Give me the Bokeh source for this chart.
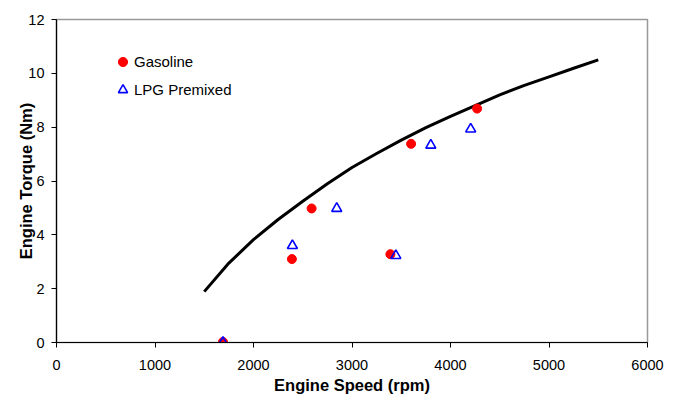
from bokeh.plotting import figure
from bokeh.models import Range1d, FixedTicker, Legend, LegendItem
from bokeh.embed import file_html
from bokeh.resources import INLINE

# Full-load torque curve
curve_speed = [1500, 1750, 2000, 2250, 2500, 2750, 3000, 3250, 3500, 3750, 4000, 4250, 4500, 4750, 5000, 5250, 5500]
curve_torque = [1.89, 2.95, 3.82, 4.57, 5.25, 5.9, 6.5, 7.02, 7.52, 7.98, 8.4, 8.8, 9.2, 9.55, 9.87, 10.19, 10.5]

# Gasoline
gas_speed = [1690, 2390, 2590, 3390, 3600, 4270]
gas_torque = [0.02, 3.1, 4.98, 3.28, 7.38, 8.69]

# LPG premixed
lpg_speed = [1690, 2395, 2845, 3445, 3800, 4205]
lpg_torque = [0.0, 3.6, 4.98, 3.23, 7.33, 7.93]

x_ticks = [0, 1000, 2000, 3000, 4000, 5000, 6000]
y_ticks = [0, 2, 4, 6, 8, 10, 12]

FONT = "Liberation Sans"

p = figure(width=677, height=396, output_backend="svg", toolbar_location=None,
           x_range=Range1d(0, 6000), y_range=Range1d(0, 12),
           min_border_left=56, min_border_right=30, min_border_top=19, min_border_bottom=53)
p.background_fill_color = "white"
p.border_fill_color = "white"
p.outline_line_color = "#999999"
p.outline_line_width = 1.5
p.grid.visible = False

for ax in (p.xaxis[0], p.yaxis[0]):
    ax.axis_line_color = "black"
    ax.axis_line_width = 1.2
    ax.major_tick_line_color = "black"
    ax.major_tick_out = 5
    ax.major_tick_in = 0
    ax.minor_tick_line_color = None
    ax.major_label_text_font = FONT
    ax.major_label_text_font_size = "14.5px"
    ax.major_label_text_color = "black"
    ax.axis_label_text_font = FONT
    ax.axis_label_text_font_size = "16.5px"
    ax.axis_label_text_font_style = "bold"
    ax.axis_label_text_color = "black"

p.xaxis.ticker = FixedTicker(ticks=x_ticks)
p.yaxis.ticker = FixedTicker(ticks=y_ticks)
p.xaxis.axis_label = "Engine Speed (rpm)"
p.yaxis.axis_label = "Engine Torque (Nm)"
p.xaxis.major_label_standoff = 12
p.xaxis.axis_label_standoff = 3
p.yaxis.major_label_standoff = 7
p.yaxis.axis_label_standoff = -10

p.line(curve_speed, curve_torque, line_color="black", line_width=3)
g = p.scatter(gas_speed, gas_torque, marker="circle", size=9, fill_color="red", line_color="red")
l = p.scatter(lpg_speed, lpg_torque, marker="triangle", size=10, fill_color=None,
              line_color="blue", line_width=1.6)

legend = Legend(items=[LegendItem(label="Gasoline", renderers=[g]),
                       LegendItem(label="LPG Premixed", renderers=[l])],
                location=(55, 241))
legend.background_fill_alpha = 0
legend.border_line_color = None
legend.padding = 0
legend.margin = 0
legend.spacing = 5
legend.glyph_width = 23
legend.glyph_height = 23
legend.label_standoff = 0
legend.label_text_font = FONT
legend.label_text_font_size = "15px"
legend.label_text_color = "black"
p.add_layout(legend)

open("out.html", "w").write(file_html(p, INLINE))
